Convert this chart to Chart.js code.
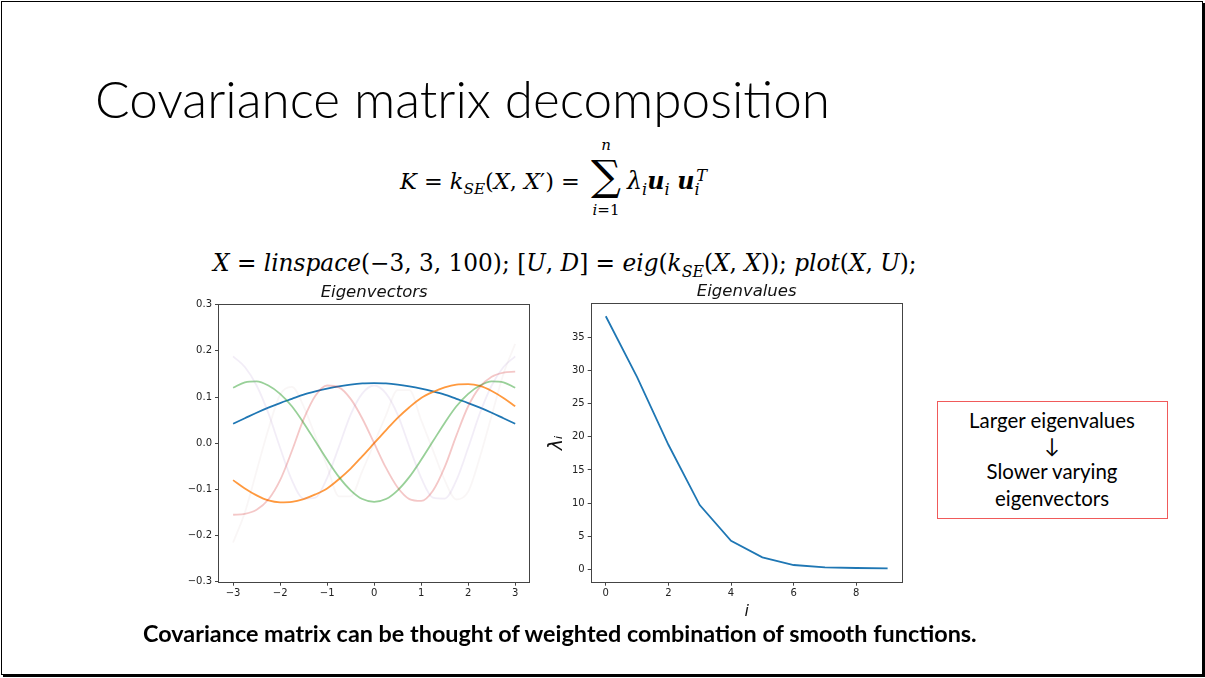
<!DOCTYPE html>
<html>
<head>
<meta charset="utf-8">
<script src="https://cdn.jsdelivr.net/npm/chart.js@4.4.1/dist/chart.umd.min.js"></script>
<style>
    body { margin: 0; width: 1205px; height: 678px; background: #fff; overflow: hidden; position: relative; }
    .frame { position: absolute; left: 1px; top: 1px; width: 1202px; height: 674px; box-sizing: border-box;
             border: 1px solid #000; box-shadow: 2px 2px 0 #000; }
    .t { position: absolute; left: 0; top: 0; white-space: nowrap; line-height: 1; color: #000; }
    .slide { font-family: Lato, "Open Sans", sans-serif; }
    .math { font-family: "DejaVu Serif", "Liberation Serif", serif; font-style: italic; font-size: 22px; }
    .math .up { font-style: normal; }
    .math sub, .math sup { font-size: 0.68em; line-height: 0; }
    .math sup.tp { vertical-align: 0.5em; margin-left: -0.22em; }
    .redbox { position: absolute; left: 937px; top: 401px; width: 231px; height: 118px; box-sizing: border-box;
              border: 1px solid #f05a5a; }
    canvas { position: absolute; }
</style>
</head>
<body>
<div class="frame"></div>

<div id="title" class="t slide" style="font-size:55px; font-weight:300;">Covariance matrix decomposition</div>

<div id="f1a" class="t math"><i>K</i> <span class="up">=</span> <i>k</i><sub>SE</sub><span class="up">(</span><i>X</i><span class="up">,</span> <i>X</i><span class="up">′)</span> <span class="up">=</span></div>
<div id="sigma" class="t math" style="font-style:normal; font-size:42px;">∑</div>
<div id="sumTop" class="t math" style="font-size:15px;">n</div>
<div id="sumBot" class="t math" style="font-size:15px;">i<span class="up">=1</span></div>
<div id="f1b" class="t math">λ<sub>i</sub><b>u</b><sub>i</sub> <b>u</b><sub>i</sub><sup class="tp">T</sup></div>

<div id="f2" class="t math"><i>X</i> <span class="up">=</span> linspace<span class="up">(−3, 3, 100);</span> <span class="up">[</span>U<span class="up">,</span> D<span class="up">]</span> <span class="up">=</span> eig<span class="up">(</span>k<sub>SE</sub><span class="up">(</span>X<span class="up">,</span> X<span class="up">));</span> plot<span class="up">(</span>X<span class="up">,</span> U<span class="up">);</span></div>

<canvas id="vecChart" width="360" height="320" style="left:180px; top:280px;"></canvas>
<canvas id="valChart" width="370" height="345" style="left:540px; top:280px;"></canvas>

<div class="redbox"></div>
<div id="b1" class="t slide" style="font-size:19px;">Larger eigenvalues</div>
<div id="b2" class="t slide" style="font-size:19px;">↓</div>
<div id="b3" class="t slide" style="font-size:19px;">Slower varying</div>
<div id="b4" class="t slide" style="font-size:19px;">eigenvectors</div>

<div id="bottom" class="t slide" style="font-size:19px; font-weight:700;">Covariance matrix can be thought of weighted combination of smooth functions.</div>

<script>
// значення
const xGrid = [-3, -2.75, -2.5, -2.25, -2, -1.75, -1.5, -1.25, -1, -0.75, -0.5, -0.25, 0,
               0.25, 0.5, 0.75, 1, 1.25, 1.5, 1.75, 2, 2.25, 2.5, 2.75, 3];

const vec1 = [0.042, 0.054, 0.066, 0.077, 0.087, 0.096, 0.105, 0.112, 0.118, 0.123, 0.127, 0.1295, 0.130,
              0.1295, 0.127, 0.123, 0.118, 0.112, 0.105, 0.096, 0.087, 0.077, 0.066, 0.054, 0.042];
const vec2 = [-0.080, -0.098, -0.113, -0.124, -0.128, -0.127, -0.121, -0.111, -0.098, -0.078, -0.055, -0.028, 0,
              0.028, 0.055, 0.078, 0.098, 0.111, 0.121, 0.127, 0.128, 0.124, 0.113, 0.098, 0.080];
const vec3 = [0.120, 0.132, 0.134, 0.125, 0.107, 0.080, 0.044, 0.004, -0.036, -0.073, -0.102, -0.121, -0.127,
              -0.121, -0.102, -0.073, -0.036, 0.004, 0.044, 0.080, 0.107, 0.125, 0.134, 0.132, 0.120];
const vec4 = [-0.155, -0.153, -0.144, -0.122, -0.080, -0.017, 0.052, 0.103, 0.125, 0.121, 0.096, 0.053, 0,
              -0.053, -0.096, -0.121, -0.125, -0.103, -0.052, 0.017, 0.080, 0.122, 0.144, 0.153, 0.155];
const vec5 = [0.188, 0.165, 0.125, 0.065, -0.010, -0.080, -0.120, -0.118, -0.075, -0.008, 0.062, 0.108, 0.125,
              0.108, 0.062, -0.008, -0.075, -0.118, -0.120, -0.080, -0.010, 0.065, 0.125, 0.165, 0.188];
const vec6 = [-0.215, -0.150, -0.060, 0.030, 0.105, 0.122, 0.080, 0.015, -0.050, -0.115, -0.115, -0.060, 0,
              0.060, 0.115, 0.115, 0.050, -0.015, -0.080, -0.122, -0.105, -0.030, 0.060, 0.150, 0.215];

const eigIndex = [0, 1, 2, 3, 4, 5, 6, 7, 8, 9];
const eigValues = [38.2, 29.0, 18.8, 9.7, 4.3, 1.8, 0.65, 0.3, 0.2, 0.15];

const vecXTicks = [-3, -2, -1, 0, 1, 2, 3];
const vecYTicks = [-0.3, -0.2, -0.1, 0, 0.1, 0.2, 0.3];
const valXTicks = [0, 2, 4, 6, 8];
const valYTicks = [0, 5, 10, 15, 20, 25, 30, 35];


// === РОЗМІЩЕННЯ ТЕКСТУ ===
function place(id, x, base, w, center, size) {
    const el = document.getElementById(id);
    if (size) el.style.fontSize = size + "px";
    if (w) {
        const fs = parseFloat(getComputedStyle(el).fontSize);
        el.style.fontSize = (fs * w / el.getBoundingClientRect().width) + "px";
    }
    const m = document.createElement("span");
    m.style.cssText = "display:inline-block;width:0;height:0;vertical-align:baseline";
    el.appendChild(m);
    const r = el.getBoundingClientRect();
    const off = m.getBoundingClientRect().top - r.top;
    el.removeChild(m);
    el.style.top = (base - off) + "px";
    el.style.left = (center ? x - r.width / 2 : x) + "px";
    return parseFloat(el.style.fontSize);
}

function layoutText() {
    place("title", 95, 118, 735);
    place("f1a", 400, 189, 180);
    place("sigma", 606, 190, 0, true);
    place("sumTop", 606, 150, 0, true);
    place("sumBot", 606, 215, 0, true);
    place("f1b", 627, 189, 80);
    place("f2", 213, 271, 704);
    const fs = place("b1", 1052, 427.5, 166, true);
    place("b2", 1052, 453, 0, true, fs);
    place("b3", 1052, 478.7, 0, true, fs);
    place("b4", 1052, 505.5, 0, true, fs);
    place("bottom", 143, 642, 834);
}


// === ГРАФІКИ ===
const tickFont = { family: "DejaVu Sans", size: 10 };
const axisColor = "#444";

const boxFrame = {
    id: "boxFrame",
    afterDraw(c) {
        const a = c.chartArea, ctx = c.ctx;
        ctx.save();
        ctx.strokeStyle = axisColor;
        ctx.lineWidth = 1;
        const l = Math.round(a.left) - 0.5, t = Math.round(a.top) - 0.5;
        ctx.strokeRect(l, t, Math.round(a.right) - Math.round(a.left) + 1, Math.round(a.bottom) - Math.round(a.top) + 1);
        ctx.restore();
    }
};

function minus(s) { return String(s).replace("-", "\u2212"); }

function pts(xs, ys) { return xs.map((x, i) => ({ x: x, y: ys[i] })); }

const vecSeries = [
    { data: vec1, color: "rgba(31,119,180,1)" },
    { data: vec2, color: "rgba(255,127,14,0.8)" },
    { data: vec3, color: "rgba(44,160,44,0.49)" },
    { data: vec4, color: "rgba(214,39,40,0.26)" },
    { data: vec5, color: "rgba(148,103,189,0.12)" },
    { data: vec6, color: "rgba(140,86,75,0.05)" }
];

new Chart(document.getElementById("vecChart"), {
    type: "line",
    data: {
        datasets: vecSeries.map((s, k) => ({
            data: pts(xGrid, s.data),
            borderColor: s.color,
            borderWidth: 1.8,
            pointRadius: 0,
            cubicInterpolationMode: "monotone",
            fill: false,
            order: 10 - k
        }))
    },
    options: {
        responsive: false,
        animation: false,
        devicePixelRatio: 1,
        layout: { padding: { left: 0, right: 10.7, top: 0, bottom: 0 } },
        plugins: {
            legend: { display: false },
            tooltip: { enabled: false },
            title: {
                display: true, text: "Eigenvectors", fullSize: false, color: "#111",
                font: { family: "DejaVu Sans", size: 16.5, style: "italic", weight: "normal" },
                padding: { top: 2.5, bottom: 2.4 }
            }
        },
        scales: {
            x: {
                type: "linear", min: -3.3, max: 3.3,
                afterBuildTicks: ax => { ax.ticks = vecXTicks.map(v => ({ value: v })); },
                afterFit: s => { s.height = 18.3; },
                grid: { drawOnChartArea: false, tickLength: 4, color: axisColor },
                border: { display: false },
                ticks: { font: tickFont, color: "#222", padding: 2, maxRotation: 0, callback: v => minus(v) }
            },
            y: {
                type: "linear", min: -0.3, max: 0.3,
                afterBuildTicks: ax => { ax.ticks = vecYTicks.map(v => ({ value: v })); },
                afterFit: s => { s.width = 39; },
                grid: { drawOnChartArea: false, tickLength: 4, color: axisColor },
                border: { display: false },
                ticks: { font: tickFont, color: "#222", padding: 3, callback: v => minus(Number(v).toFixed(1)) }
            }
        }
    },
    plugins: [boxFrame]
});

new Chart(document.getElementById("valChart"), {
    type: "line",
    data: {
        datasets: [{
            data: pts(eigIndex, eigValues),
            borderColor: "#1f77b4",
            borderWidth: 1.8,
            pointRadius: 0,
            tension: 0,
            fill: false
        }]
    },
    options: {
        responsive: false,
        animation: false,
        devicePixelRatio: 1,
        layout: { padding: { left: 0, right: 8.3, top: 0, bottom: 0 } },
        plugins: {
            legend: { display: false },
            tooltip: { enabled: false },
            title: {
                display: true, text: "Eigenvalues", fullSize: false, color: "#111",
                font: { family: "DejaVu Sans", size: 16.5, style: "italic", weight: "normal" },
                padding: { top: 2.1, bottom: 2.4 }
            }
        },
        scales: {
            x: {
                type: "linear", min: -0.45, max: 9.45,
                afterBuildTicks: ax => { ax.ticks = valXTicks.map(v => ({ value: v })); },
                afterFit: s => { s.height = 43.3; },
                grid: { drawOnChartArea: false, tickLength: 4, color: axisColor },
                border: { display: false },
                ticks: { font: tickFont, color: "#222", padding: 2, maxRotation: 0 },
                title: {
                    display: true, text: "i", color: "#111",
                    font: { family: "DejaVu Sans", size: 16, style: "italic" },
                    padding: { top: 0, bottom: 4 }
                }
            },
            y: {
                type: "linear", min: -1.87, max: 40.0,
                afterBuildTicks: ax => { ax.ticks = valYTicks.map(v => ({ value: v })); },
                afterFit: s => { s.width = 51.7; },
                grid: { drawOnChartArea: false, tickLength: 4, color: axisColor },
                border: { display: false },
                ticks: { font: tickFont, color: "#222", padding: 3 },
                title: {
                    display: true, text: "λᵢ", color: "#111",
                    font: { family: "DejaVu Sans", size: 19, style: "italic" },
                    padding: { top: 5.6, bottom: 0 }
                }
            }
        }
    },
    plugins: [boxFrame]
});


// === ПЕРШЕ ЗАВАНТАЖЕННЯ ===
layoutText();
</script>
</body>
</html>
